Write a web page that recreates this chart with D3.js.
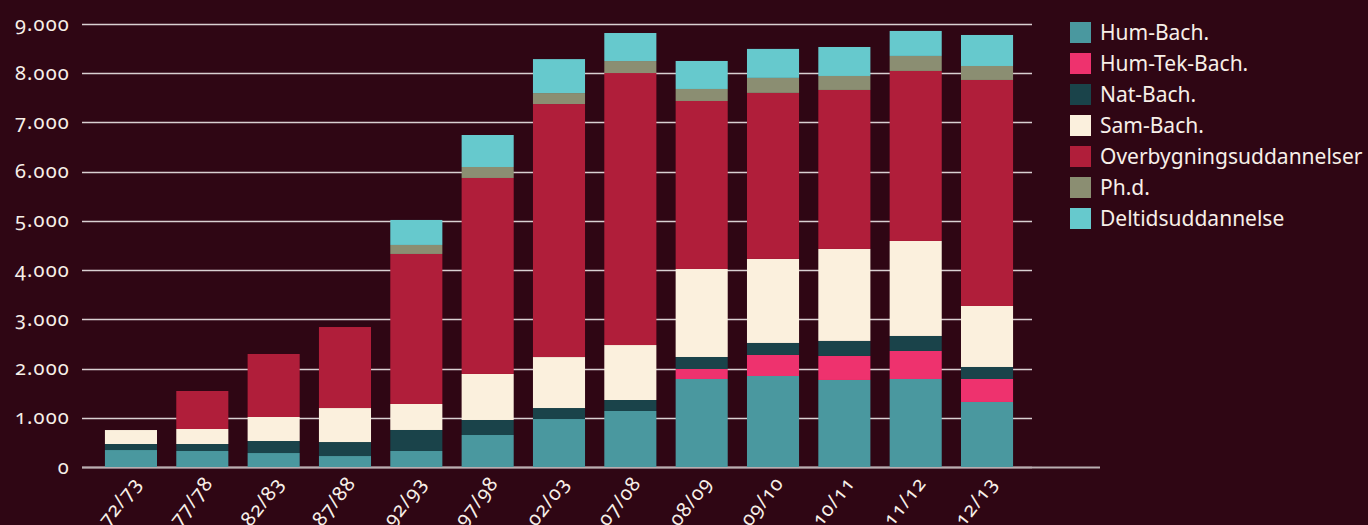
<!DOCTYPE html>
<html>
<head>
<meta charset="utf-8">
<script src="https://cdn.jsdelivr.net/npm/d3@7"></script>
<style>
  html, body { margin: 0; padding: 0; background: #2f0614; }
  svg { display: block; }
  text { font-family: "Noto Sans", sans-serif; fill: #f7efe8; }
</style>
</head>
<body>
<svg id="chart" width="1368" height="525"></svg>
<script>
const categories = ["72/73","77/78","82/83","87/88","92/93","97/98","02/03","07/08","08/09","09/10","10/11","11/12","12/13"];
const seriesNames = ["Hum-Bach.","Hum-Tek-Bach.","Nat-Bach.","Sam-Bach.","Overbygningsuddannelser","Ph.d.","Deltidsuddannelse"];
const seriesColors = ["#4a989f","#ee326e","#1a434a","#fbf0dd","#b01e3a","#8b8e72","#66c9cd"];
const humBach     = [345, 325, 284, 223, 325, 650, 975, 1138, 1788, 1849, 1768, 1788, 1321];
const humTekBach  = [0, 0, 0, 0, 0, 0, 0, 0, 203, 427, 488, 569, 467];
const natBach     = [122, 142, 244, 284, 427, 305, 223, 223, 244, 244, 305, 305, 244];
const samBach     = [284, 305, 488, 691, 528, 935, 1036, 1117, 1788, 1707, 1869, 1930, 1239];
const overbygning = [0, 772, 1280, 1646, 3048, 3982, 5140, 5526, 3413, 3373, 3230, 3454, 4592];
const phd         = [0, 0, 0, 0, 183, 223, 223, 244, 244, 305, 284, 305, 284];
const deltid      = [0, 0, 0, 0, 508, 650, 690, 569, 569, 589, 589, 508, 630];
const yTicks = [0,1000,2000,3000,4000,5000,6000,7000,8000,9000];
const yTickLabels = ["0","1.000","2.000","3.000","4.000","5.000","6.000","7.000","8.000","9.000"];

const seriesValues = [humBach, humTekBach, natBach, samBach, overbygning, phd, deltid];
const rows = categories.map((c, i) => {
  const r = { cat: c };
  seriesNames.forEach((s, j) => r[s] = seriesValues[j][i]);
  return r;
});
const stacked = d3.stack().keys(seriesNames)(rows);

const svg = d3.select("#chart");
const x = d3.scaleBand().domain(categories).range([95.3, 1022.7]).paddingInner(0.27).paddingOuter(0.135);
const y = d3.scaleLinear().domain([0, 9000]).range([467, 24]);
const color = d3.scaleOrdinal().domain(seriesNames).range(seriesColors);

// gridlines
svg.append("g").selectAll("line").data(yTicks).join("line")
  .attr("x1", 82).attr("x2", 1032)
  .attr("y1", d => Math.round(y(d)) + 0.5).attr("y2", d => Math.round(y(d)) + 0.5)
  .attr("stroke", "#d9d0d2").attr("stroke-width", 1.5);

// baseline axis
svg.append("line").attr("x1", 82).attr("x2", 1100)
  .attr("y1", Math.round(y(0)) + 0.5).attr("y2", Math.round(y(0)) + 0.5)
  .attr("stroke", "#b9aeb1").attr("stroke-width", 2);

// y labels
const yAxis = d3.axisLeft(y).tickValues(yTicks).tickFormat((d, i) => yTickLabels[i]).tickSize(0).tickPadding(0);
const yg = svg.append("g").attr("transform", "translate(70,0)").call(yAxis);
yg.select(".domain").remove();
yg.selectAll("text").attr("font-size", 20).attr("letter-spacing", "1.2px")
  .style("font-variant-numeric", "oldstyle-nums").attr("fill", "#f7efe8").attr("dy", "0.3em");

// bars
svg.append("g").selectAll("g").data(stacked).join("g")
  .attr("fill", d => color(d.key))
  .selectAll("rect").data(d => d).join("rect")
  .attr("x", d => x(d.data.cat))
  .attr("width", x.bandwidth())
  .attr("y", d => y(d[1]))
  .attr("height", d => y(d[0]) - y(d[1]));

// x labels
const xAxis = d3.axisBottom(x).tickSize(0).tickPadding(0);
const xg = svg.append("g").call(xAxis);
xg.select(".domain").remove();
xg.selectAll(".tick").attr("transform", d => `translate(${x(d) + x.bandwidth() / 2 + 6},479)`);
xg.selectAll("text").attr("font-size", 20).attr("letter-spacing", "1px")
  .style("font-variant-numeric", "oldstyle-nums")
  .attr("text-anchor", "end").attr("x", 0).attr("y", 0).attr("dy", "0.35em")
  .attr("transform", "rotate(-52)").attr("fill", "#f7efe8");

// legend
const legend = svg.append("g").attr("transform", "translate(1070,22)");
const items = legend.selectAll("g").data(seriesNames).join("g")
  .attr("transform", (d, i) => `translate(0,${i * 31})`);
items.append("rect").attr("width", 21).attr("height", 21).attr("fill", d => color(d));
items.append("text").attr("x", 30).attr("y", 10.5).attr("dy", "0.36em")
  .attr("font-size", 21).text(d => d);
</script>
</body>
</html>
